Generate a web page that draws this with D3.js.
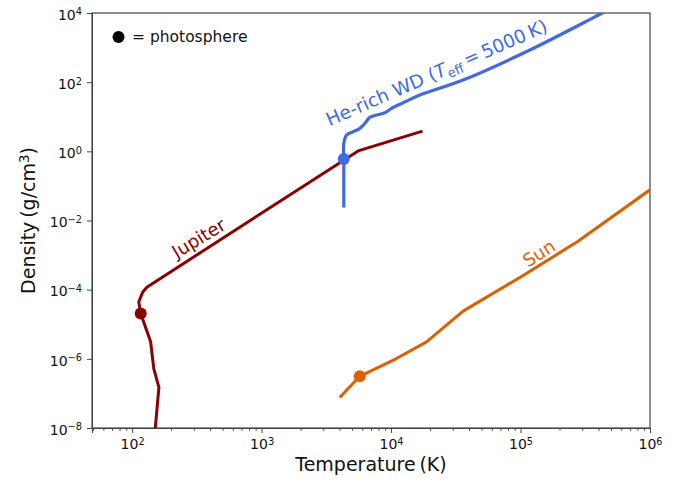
<!DOCTYPE html>
<html>
<head>
<meta charset="utf-8">
<script src="https://cdn.jsdelivr.net/npm/d3@7"></script>
<style>
  body { margin: 0; background: #fff; }
  text { font-family: "DejaVu Sans", sans-serif; }
</style>
</head>
<body>
<svg id="chart" width="673" height="480"></svg>
<script>
// profiles: temperature (K) and density (g/cm^3)
const jupiterT = [151, 161, 147, 139, 116.5, 112.5, 121, 130, 5570, 17500];
const jupiterRho = [1e-8, 1.5e-7, 5.2e-7, 3.1e-6, 2.04e-5, 4.4e-5, 8.6e-5, 1.18e-4, 1.03, 3.85];

const wdT = [4315, 4315, 4315, 4530, 5090, 5740, 6270, 6850, 7720, 8950, 10100, 12400, 16700, 36000, 118000, 424000, 700000];
const wdRho = [0.0238, 0.596, 1.69, 2.95, 3.67, 4.6, 6.4, 9.6, 11.2, 13.0, 17.5, 25.4, 42.4, 115, 850, 9800, 2.6e4];

const sunT = [4020, 5730, 11000, 18800, 36000, 98900, 278000, 1e6];
const sunRho = [7.6e-8, 3.13e-7, 1.02e-6, 3.1e-6, 2.4e-5, 2.25e-4, 2.5e-3, 0.077];

// photosphere markers
const photoNames = ['jupiter', 'wd', 'sun'];
const photoT = [116.5, 4315, 5730];
const photoRho = [2.04e-5, 0.596, 3.13e-7];

const xTickExp = [2, 3, 4, 5, 6];
const yTickExp = [-8, -6, -4, -2, 0, 2, 4];

const colors = { jupiter: '#8b0000', wd: '#4169e1', sun: '#dd6000' };

const width = 673, height = 480;
const margin = { top: 13, right: 23, bottom: 52, left: 92 };

const svg = d3.select('#chart');

const x = d3.scaleLog().domain([49, 1e6]).range([margin.left, width - margin.right]);
const y = d3.scaleLog().domain([1e-8, 1e4]).range([height - margin.bottom, margin.top]);

svg.append('defs').append('clipPath').attr('id', 'plot-clip')
  .append('rect')
  .attr('x', margin.left).attr('y', margin.top)
  .attr('width', width - margin.left - margin.right)
  .attr('height', height - margin.top - margin.bottom);

// ---- axes ----
const minorX = [];
for (let e = 1; e <= 5; e++) {
  for (let m = 2; m <= 9; m++) {
    const v = m * Math.pow(10, e);
    if (v >= 49 && v <= 1e6) minorX.push(v);
  }
}

function powLabel(sel, exp) {
  sel.text(null);
  sel.append('tspan').text('10');
  sel.append('tspan')
    .attr('dy', '-0.45em')
    .attr('font-size', '0.7em')
    .text(exp < 0 ? '\u2212' + (-exp) : exp);
}

const xAxis = svg.append('g')
  .attr('transform', `translate(0,${height - margin.bottom})`)
  .call(d3.axisBottom(x).tickValues(xTickExp.map((e) => Math.pow(10, e))).tickSize(5).tickPadding(6).tickFormat(''));

xAxis.selectAll('.tick text').each(function (d, i) {
  d3.select(this).attr('font-size', 14).attr('fill', '#111');
  powLabel(d3.select(this), xTickExp[i]);
});

svg.append('g')
  .attr('transform', `translate(0,${height - margin.bottom})`)
  .call(d3.axisBottom(x).tickValues(minorX).tickSize(2.8).tickFormat(''))
  .call((g) => g.select('.domain').remove());

const yAxis = svg.append('g')
  .attr('transform', `translate(${margin.left},0)`)
  .call(d3.axisLeft(y).tickValues(yTickExp.map((e) => Math.pow(10, e))).tickSize(5).tickPadding(5).tickFormat(''));

yAxis.selectAll('.tick text').each(function (d, i) {
  d3.select(this).attr('font-size', 14).attr('fill', '#111').attr('dy', '0.45em');
  powLabel(d3.select(this), yTickExp[i]);
});

svg.selectAll('.domain').attr('stroke', '#444');
svg.selectAll('.tick line').attr('stroke', '#444');

// frame
svg.append('rect')
  .attr('x', margin.left).attr('y', margin.top)
  .attr('width', width - margin.left - margin.right)
  .attr('height', height - margin.top - margin.bottom)
  .attr('fill', 'none')
  .attr('stroke', '#444')
  .attr('stroke-width', 1.2);

// axis titles
svg.append('text')
  .attr('x', (margin.left + width - margin.right) / 2)
  .attr('y', 471)
  .attr('text-anchor', 'middle')
  .attr('font-size', 19)
  .attr('fill', '#111')
  .text('Temperature\u2009(K)');

const yTitle = svg.append('text')
  .attr('transform', `translate(35,${(margin.top + height - margin.bottom) / 2}) rotate(-90)`)
  .attr('text-anchor', 'middle')
  .attr('font-size', 19)
  .attr('fill', '#111');
yTitle.append('tspan').text('Density\u2009(g/cm');
yTitle.append('tspan').attr('dy', '-0.45em').attr('font-size', '0.7em').text('3');
yTitle.append('tspan').attr('dy', '0.32em').text(')');

// ---- profiles ----
const plot = svg.append('g').attr('clip-path', 'url(#plot-clip)');

const line = d3.line().x((d) => x(d[0])).y((d) => y(d[1]));

plot.append('path')
  .datum(d3.zip(jupiterT, jupiterRho))
  .attr('d', line)
  .attr('fill', 'none')
  .attr('stroke', colors.jupiter)
  .attr('stroke-width', 3)
  .attr('stroke-linejoin', 'round');

plot.append('path')
  .datum(d3.zip(sunT, sunRho))
  .attr('d', line)
  .attr('fill', 'none')
  .attr('stroke', colors.sun)
  .attr('stroke-width', 3)
  .attr('stroke-linejoin', 'round');

plot.append('path')
  .datum(d3.zip(wdT, wdRho))
  .attr('d', line.curve(d3.curveCatmullRom.alpha(0.5)))
  .attr('fill', 'none')
  .attr('stroke', colors.wd)
  .attr('stroke-width', 3.2)
  .attr('stroke-linejoin', 'round');

plot.selectAll('circle.photo')
  .data(photoNames)
  .join('circle')
  .attr('class', 'photo')
  .attr('cx', (d, i) => x(photoT[i]))
  .attr('cy', (d, i) => y(photoRho[i]))
  .attr('r', 6)
  .attr('fill', (d) => colors[d]);

// ---- curve labels ----
function curveLabel(t, rho, angle, color, size) {
  return svg.append('text')
    .attr('transform', `translate(${x(t)},${y(rho)}) rotate(${angle})`)
    .attr('text-anchor', 'middle')
    .attr('dy', '0.35em')
    .attr('font-size', size)
    .attr('fill', color);
}

curveLabel(327, 3.08e-3, -31, colors.jupiter, 18).text('Jupiter');
curveLabel(138700, 1.13e-3, -33, colors.sun, 18).text('Sun');

const wdLabel = curveLabel(22500, 190, -23.5, colors.wd, 18.5);
wdLabel.append('tspan').text('He-rich WD (');
wdLabel.append('tspan').attr('font-style', 'italic').text('T');
wdLabel.append('tspan').attr('font-size', '0.7em').attr('dy', '0.3em').text('eff');
wdLabel.append('tspan').attr('dy', '-0.21em').text('\u2009=\u20095000\u2009K)');

// ---- legend ----
svg.append('circle')
  .attr('cx', 118.5).attr('cy', 37)
  .attr('r', 6)
  .attr('fill', '#000');

svg.append('text')
  .attr('x', 132).attr('y', 42)
  .attr('font-size', 15.5)
  .attr('fill', '#111')
  .text('= photosphere');
</script>
</body>
</html>
